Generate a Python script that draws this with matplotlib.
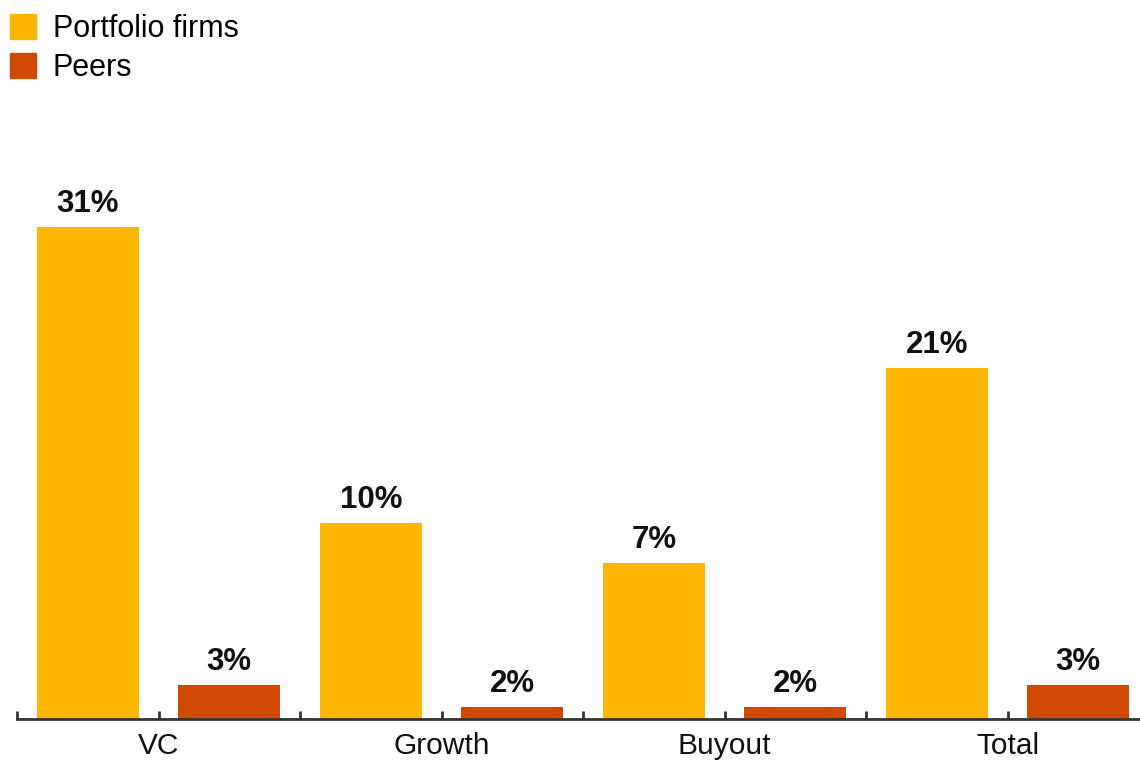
import matplotlib

matplotlib.use("Agg")
import matplotlib.pyplot as plt
from matplotlib.patches import Patch
import numpy as np

plt.rcParams["font.family"] = ["Liberation Sans", "DejaVu Sans"]

categories = ["VC", "Growth", "Buyout", "Total"]
portfolio_heights = [31.0, 12.35, 9.83, 22.12]
peers_heights = [2.14, 0.76, 0.76, 2.14]
portfolio_labels = ["31%", "10%", "7%", "21%"]
peers_labels = ["3%", "2%", "2%", "3%"]

GOLD = "#FFB600"
RUST = "#D04A02"

fig = plt.figure(figsize=(11.4, 7.62), dpi=100)
ax = fig.add_axes([17 / 1140, 43 / 762, 1 - 17 / 1140, (719 - 100) / 762])

x = np.arange(len(categories))
w = 0.36
b1 = ax.bar(x - 0.25, portfolio_heights, width=w, color=GOLD, zorder=2)
b2 = ax.bar(x + 0.25, peers_heights, width=w, color=RUST, zorder=2)

for bars, labels in ((b1, portfolio_labels), (b2, peers_labels)):
    for rect, lab in zip(bars, labels):
        ax.annotate(lab, (rect.get_x() + rect.get_width() / 2, rect.get_height()),
                    xytext=(0, 11), textcoords="offset points", ha="center",
                    va="baseline", fontsize=22.5, fontweight="bold", color="#111")

# group boundaries and bar midpoints get small upward ticks
ticks = np.arange(-0.5, 3.6, 0.5)
ax.set_xticks(ticks)
ax.set_xticklabels([categories[int(t)] if float(t).is_integer() else "" for t in ticks],
                   fontsize=21.5, color="#111")
ax.set_xlim(-0.5, 3.468)  # after set_xticks, otherwise the last tick widens the view
ax.set_ylim(0, 39.0)
ax.tick_params(axis="x", direction="in", length=6, width=2, color="#333", pad=9)
ax.set_yticks([])
for s in ("top", "right", "left"):
    ax.spines[s].set_visible(False)
ax.spines["bottom"].set_linewidth(2)
ax.spines["bottom"].set_color("#333")

handles = [Patch(color=GOLD, label="Portfolio firms"), Patch(color=RUST, label="Peers")]
fig.legend(handles=handles, loc="upper left", bbox_to_anchor=(10 / 1140, 1 - 14 / 762),
           frameon=False, fontsize=22, handlelength=0.85, handleheight=0.85,
           handletextpad=0.55, labelspacing=0.3, borderaxespad=0.0, borderpad=0.0)

fig.savefig("out.png", dpi=100, facecolor="white")
